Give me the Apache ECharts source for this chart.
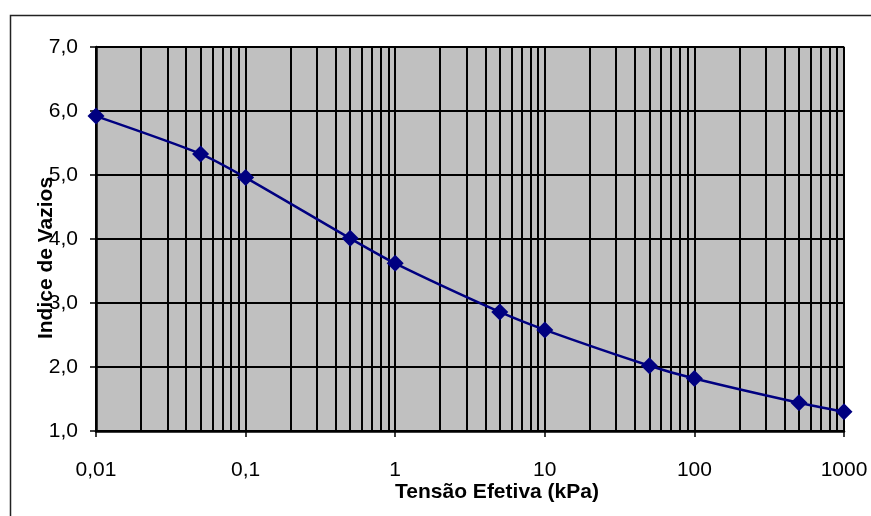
<html>
  <head>
    <meta charset="utf-8">
    <title>Indice de Vazios x Tensão Efetiva</title>
    <script src="https://cdn.jsdelivr.net/npm/echarts@6.0.0/dist/echarts.min.js"></script>
    <style>
      html, body { margin: 0; padding: 0; background: #fff; }
      #main { width: 871px; height: 516px; }
    </style>
  </head>
  <body>
    <div id="main"></div>
    <script type="text/javascript">
      // tensao efetiva (kPa) e indice de vazios
      var tensao = [0.01, 0.05, 0.1, 0.5, 1, 5, 10, 50, 100, 500, 1000];
      var indice = [5.92, 5.33, 4.96, 4.01, 3.62, 2.86, 2.58, 2.02, 1.82, 1.44, 1.30];

      // linhas de grade secundarias (2..9 de cada decada)
      var decadas = [0.01, 0.1, 1, 10, 100];
      var grade = [];
      decadas.forEach(function (d) {
        for (var k = 2; k <= 9; k++) grade.push(+(d * k).toPrecision(6));
      });

      var pontos = tensao.map(function (t, i) { return [t, indice[i]]; });

      var chartDom = document.getElementById('main');
      var myChart = echarts.init(chartDom);
      var option;

      option = {
        animation: false,
        textStyle: { fontFamily: '"Liberation Sans", Arial, sans-serif' },
        graphic: [
          {
            type: 'rect', silent: true, z: -10,
            shape: { x: 10.5, y: 15.5, width: 900, height: 600 },
            style: { fill: null, stroke: '#222', lineWidth: 1.5 }
          },
          {
            type: 'text', x: 46, y: 258, rotation: Math.PI / 2,
            style: {
              text: 'Indice de Vazios', align: 'center', verticalAlign: 'middle',
              font: 'bold 21px "Liberation Sans", Arial, sans-serif', fill: '#000'
            }
          },
          {
            type: 'text', x: 497, y: 492,
            style: {
              text: 'Tensão Efetiva (kPa)', align: 'center', verticalAlign: 'middle',
              font: 'bold 21px "Liberation Sans", Arial, sans-serif', fill: '#000'
            }
          }
        ],
        grid: {
          left: 96, right: 27, top: 47, bottom: 85,
          show: true, backgroundColor: '#c0c0c0',
          borderColor: '#808080', borderWidth: 1.5
        },
        xAxis: {
          type: 'log', logBase: 10, min: 0.01, max: 1000,
          axisLine: { lineStyle: { color: '#000', width: 2.5 } },
          axisTick: { show: true, length: 6, lineStyle: { color: '#000', width: 1.5 } },
          axisLabel: {
            color: '#000', fontSize: 21, margin: 29,
            formatter: function (v) { return String(+v.toPrecision(6)).replace('.', ','); }
          },
          splitLine: { show: true, lineStyle: { color: '#000', width: 2 } }
        },
        yAxis: {
          type: 'value', min: 1, max: 7, interval: 1,
          axisLine: { show: true, lineStyle: { color: '#000', width: 2.5 } },
          axisTick: { show: true, length: 6, lineStyle: { color: '#000', width: 1.5 } },
          axisLabel: {
            color: '#000', fontSize: 21, margin: 18,
            formatter: function (v) { return v.toFixed(1).replace('.', ','); }
          },
          splitLine: { show: true, lineStyle: { color: '#000', width: 2 } }
        },
        series: [
          {
            type: 'line', z: 1, data: [], silent: true,
            markLine: {
              silent: true, symbol: 'none', label: { show: false },
              lineStyle: { color: '#000', width: 2, type: 'solid' },
              data: grade.map(function (v) { return { xAxis: v }; })
            }
          },
          {
            type: 'line', z: 5, data: pontos,
            smooth: 0.25,
            symbol: 'diamond', symbolSize: 17,
            itemStyle: { color: '#000080' },
            lineStyle: { color: '#000080', width: 2.5 }
          }
        ]
      };

      option && myChart.setOption(option);
    </script>
  </body>
</html>
